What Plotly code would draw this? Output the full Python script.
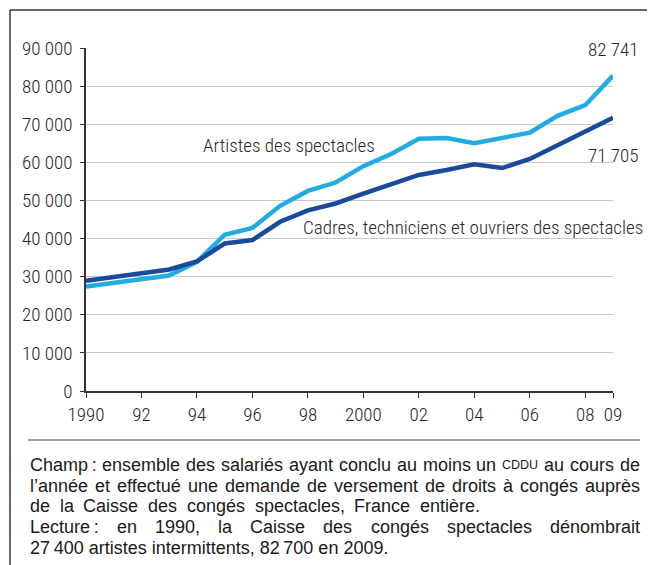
import plotly.graph_objects as go

# ---------------- data ----------------
years = list(range(1990, 2010))
artistes = [27400, 28300, 29300, 30300, 33900, 41000, 42800, 48600, 52500, 54700,
            59000, 62200, 66200, 66400, 65000, 66500, 67800, 72200, 75000, 82741]
cadres = [28900, 29900, 30900, 31900, 34000, 38700, 39600, 44400, 47400, 49200,
          51800, 54300, 56700, 58000, 59500, 58500, 60900, 64500, 68200, 71705]

y_ticks = [0, 10000, 20000, 30000, 40000, 50000, 60000, 70000, 80000, 90000]
y_labels = ["0", "10 000", "20 000", "30 000", "40 000", "50 000", "60 000",
            "70 000", "80 000", "90 000"]
x_ticks = [1990, 1992, 1994, 1996, 1998, 2000, 2002, 2004, 2006, 2008, 2009]
x_labels = ["1990", "92", "94", "96", "98", "2000", "02", "04", "06", "08", "09"]

label_artistes = "Artistes des spectacles"
label_cadres = "Cadres, techniciens et ouvriers des spectacles"
end_artistes = "82 741"
end_cadres = "71 705"

note_line1 = ["Champ\u2009:", "ensemble", "des", "salariés", "ayant", "conclu", "au",
              "moins", "un", "CDDU", "au", "cours", "de"]
note_line2 = ["l’année", "et", "effectué", "une", "demande", "de", "versement", "de",
              "droits", "à", "congés", "auprès"]
note_line3 = ["de", "la", "Caisse", "des", "congés", "spectacles,", "France", "entière."]
note_line4 = ["Lecture\u2009:", "en", "1990,", "la", "Caisse", "des", "congés",
              "spectacles", "dénombrait"]
note_line5 = "27\u2009400 artistes intermittents, 82\u2009700 en 2009."

# ---------------- style ----------------
LIGHT = "#22ACE3"
DARK = "#1A4B9B"
COND = "Roboto Condensed, Roboto, sans-serif"
BODY = "Liberation Sans, Arial, sans-serif"
TXT = "#262626"
FOOT = "#1a1a1a"
CFS = 19          # chart font size
FFS = 18          # footer font size
SMALLCAPS = 12.5

OFF = 8           # default body margin of the page
W, H = 655 - OFF, 565 - OFF
L, R, T, B = 86 - OFF, 613 - OFF, 48 - OFF, 391 - OFF


def px(x):
    return (x - OFF - L) / (R - L)


def py(y):
    return (B - (y - OFF)) / (B - T)


# Helvetica / Arial advance widths (1/1000 em) used to justify the note lines
WID = {" ": 278, "\u2009": 200, ",": 278, ".": 278, ":": 278, "’": 222}
for ch in "0123456789":
    WID[ch] = 556
WID.update({"A": 667, "C": 722, "D": 722, "F": 611, "L": 556, "U": 722})
WID.update(dict(zip("abcdefghijklmnopqrstuvwxyz",
                    [556, 556, 500, 556, 556, 278, 556, 556, 222, 222, 500, 222, 833,
                     556, 556, 556, 556, 333, 500, 278, 556, 500, 722, 500, 500, 500])))
WID.update({"é": 556, "è": 556, "à": 556})


def wwidth(word, size):
    return sum(WID.get(c, 556) for c in word) * size / 1000.0


def justify(words, x0, x1, sizes):
    widths = [wwidth(w, s) for w, s in zip(words, sizes)]
    gap = (x1 - x0 - sum(widths)) / (len(words) - 1)
    pos, x = [], x0
    for w in widths:
        pos.append(x)
        x += w + gap
    return pos


fig = go.Figure()
fig.add_trace(go.Scatter(x=years, y=artistes, mode="lines", name=label_artistes,
                         line=dict(color=LIGHT, width=4.5)))
fig.add_trace(go.Scatter(x=years, y=cadres, mode="lines", name=label_cadres,
                         line=dict(color=DARK, width=4.5)))

fig.update_layout(
    width=W, height=H,
    margin=dict(l=L, r=W - R, t=T, b=H - B),
    paper_bgcolor="white", plot_bgcolor="white",
    showlegend=False,
)
tf = dict(family=COND, size=CFS, color=TXT, weight=300)
fig.update_xaxes(range=[1990, 2009], tickvals=x_ticks, ticktext=x_labels,
                 showgrid=False, zeroline=False, showline=True, linecolor="#333333",
                 linewidth=1.5, ticks="outside", ticklen=5, tickcolor="#333333",
                 tickwidth=1.2, tickfont=tf)
fig.update_yaxes(range=[0, 90000], tickvals=y_ticks, ticktext=y_labels,
                 showgrid=True, gridcolor="#c8c8c8", gridwidth=1, zeroline=False,
                 showline=True, linecolor="#333333", linewidth=1.5,
                 ticks="outside", ticklen=4, tickcolor="#333333", tickwidth=1.2,
                 ticklabelstandoff=4, tickfont=tf)

ann = []
ann.append(dict(x=px(201), y=py(145), xref="paper", yref="paper", text=label_artistes,
                xanchor="left", yanchor="middle", showarrow=False, font=tf))
ann.append(dict(x=px(645), y=py(228), xref="paper", yref="paper", text=label_cadres,
                xanchor="right", yanchor="middle", showarrow=False, font=tf))
ann.append(dict(x=px(640), y=py(50), xref="paper", yref="paper", text=end_artistes,
                xanchor="right", yanchor="middle", showarrow=False, font=tf))
ann.append(dict(x=px(640), y=py(155), xref="paper", yref="paper", text=end_cadres,
                xanchor="right", yanchor="middle", showarrow=False, font=tf))

X0, X1 = 28, 638


def add_justified(words, yy, x1=X1):
    sizes = [SMALLCAPS if w == "CDDU" else FFS for w in words]
    for w, s, xx in zip(words, sizes, justify(words, X0, x1, sizes)):
        ann.append(dict(x=px(xx), y=py(yy), xref="paper", yref="paper", text=w,
                        xanchor="left", yanchor="middle", showarrow=False,
                        font=dict(family=BODY, size=s, color=FOOT)))


def add_plain(text, yy):
    ann.append(dict(x=px(X0), y=py(yy), xref="paper", yref="paper", text=text,
                    xanchor="left", yanchor="middle", showarrow=False,
                    font=dict(family=BODY, size=FFS, color=FOOT)))


add_justified(note_line1, 465)
add_justified(note_line2, 486)
add_justified(note_line3, 506, x1=478)
add_justified(note_line4, 527)
add_plain(note_line5, 548)
fig.update_layout(annotations=ann)

shapes = [
    dict(type="line", xref="paper", yref="paper", x0=px(10), x1=px(10), y0=py(10), y1=py(566),
         line=dict(color="#333333", width=1.5)),
    dict(type="line", xref="paper", yref="paper", x0=px(10), x1=px(656), y0=py(10), y1=py(10),
         line=dict(color="#333333", width=1.5)),
    dict(type="line", xref="paper", yref="paper", x0=px(28), x1=px(640), y0=py(440), y1=py(440),
         line=dict(color="#444444", width=1)),
]
fig.update_layout(shapes=shapes)

fig.write_html("out.html")
